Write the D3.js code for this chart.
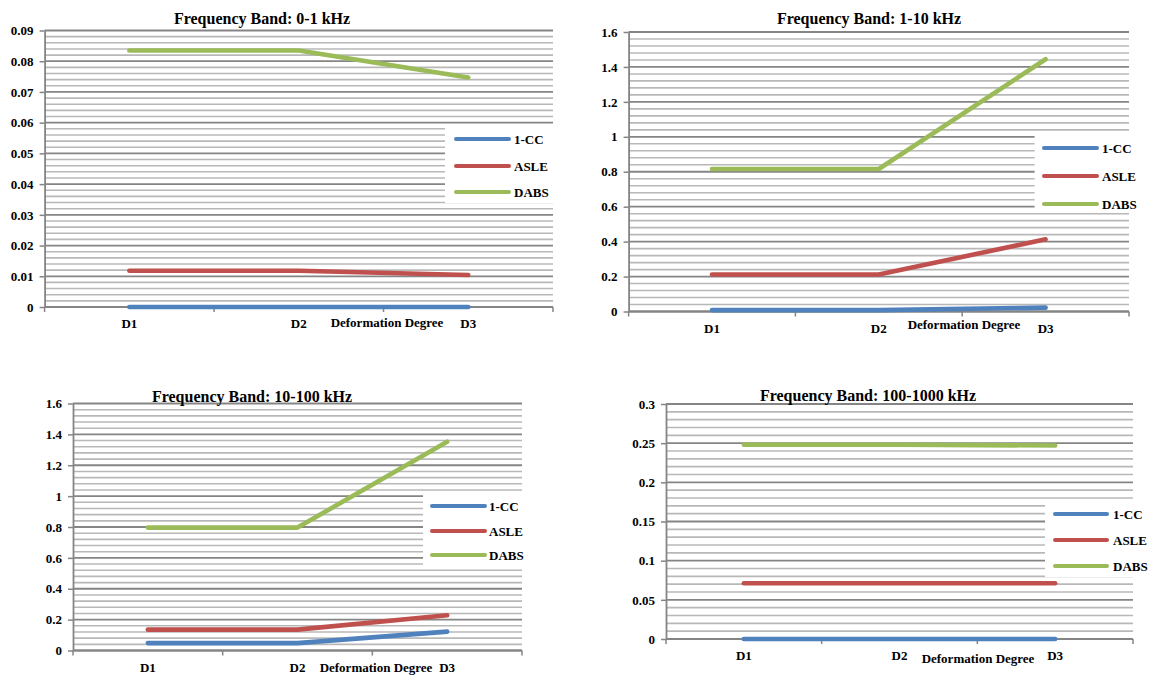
<!DOCTYPE html>
<html>
<head>
<meta charset="utf-8">
<script src="https://cdn.jsdelivr.net/npm/d3@7"></script>
<style>
  html, body { margin: 0; padding: 0; background: #fff; }
  svg { display: block; font-family: "Liberation Serif", "Times New Roman", serif; font-weight: bold; }
</style>
</head>
<body>
<svg id="chart" width="1153" height="675"></svg>
<script>
// ---- data ----
const categories = ["D1", "D2", "D3"];
const seriesNames = ["1-CC", "ASLE", "DABS"];
const seriesColors = ["#4F81BD", "#C0504D", "#9BBB59"];
const xAxisTitle = "Deformation Degree";
const panelTitles = [
  "Frequency Band: 0-1 kHz",
  "Frequency Band: 1-10 kHz",
  "Frequency Band: 10-100 kHz",
  "Frequency Band: 100-1000 kHz"
];

// 0-1 kHz
const cc0to1 = [0, 0, 0];
const asle0to1 = [0.0118, 0.0118, 0.0104];
const dabs0to1 = [0.0835, 0.0835, 0.0747];
const ticks0to1 = [0, 0.01, 0.02, 0.03, 0.04, 0.05, 0.06, 0.07, 0.08, 0.09];
const tickLabels0to1 = ["0", "0.01", "0.02", "0.03", "0.04", "0.05", "0.06", "0.07", "0.08", "0.09"];

// 1-10 kHz
const cc1to10 = [0.008, 0.008, 0.022];
const asle1to10 = [0.212, 0.212, 0.413];
const dabs1to10 = [0.816, 0.816, 1.444];
const ticks1to10 = [0, 0.2, 0.4, 0.6, 0.8, 1, 1.2, 1.4, 1.6];
const tickLabels1to10 = ["0", "0.2", "0.4", "0.6", "0.8", "1", "1.2", "1.4", "1.6"];

// 10-100 kHz
const cc10to100 = [0.048, 0.048, 0.122];
const asle10to100 = [0.135, 0.135, 0.228];
const dabs10to100 = [0.796, 0.796, 1.352];
const ticks10to100 = [0, 0.2, 0.4, 0.6, 0.8, 1, 1.2, 1.4, 1.6];
const tickLabels10to100 = ["0", "0.2", "0.4", "0.6", "0.8", "1", "1.2", "1.4", "1.6"];

// 100-1000 kHz
const cc100to1000 = [0, 0, 0];
const asle100to1000 = [0.0712, 0.0712, 0.0712];
const dabs100to1000 = [0.248, 0.248, 0.247];
const ticks100to1000 = [0, 0.05, 0.1, 0.15, 0.2, 0.25, 0.3];
const tickLabels100to1000 = ["0", "0.05", "0.1", "0.15", "0.2", "0.25", "0.3"];

const panelSeries = [
  [cc0to1, asle0to1, dabs0to1],
  [cc1to10, asle1to10, dabs1to10],
  [cc10to100, asle10to100, dabs10to100],
  [cc100to1000, asle100to1000, dabs100to1000]
];
const panelTicks = [ticks0to1, ticks1to10, ticks10to100, ticks100to1000];
const panelTickLabels = [tickLabels0to1, tickLabels1to10, tickLabels10to100, tickLabels100to1000];

// ---- layout of the four panels ----
const layouts = [
  { left: 44.6, right: 553, top: 30.5, bottom: 307, titleX: 262, titleY: 18, catY: 323, axisTitleX: 387, axisTitleY: 322,
    legend: { x0: 445, y0: 127, y1: 203, items: [139, 166, 192], lineX0: 456, lineX1: 509, textX: 514 } },
  { left: 628.6, right: 1129, top: 32, bottom: 311.5, titleX: 869, titleY: 18, catY: 328, axisTitleX: 964, axisTitleY: 324,
    legend: { x0: 1034.6, y0: 135, y1: 213, items: [148, 176, 204], lineX0: 1044, lineX1: 1097, textX: 1102 } },
  { left: 73, right: 522, top: 403.5, bottom: 650.5, titleX: 252, titleY: 396, catY: 667, axisTitleX: 376, axisTitleY: 667,
    legend: { x0: 423, y0: 495, y1: 565, items: [506, 531, 555], lineX0: 432, lineX1: 485, textX: 489 } },
  { left: 666, right: 1133, top: 404, bottom: 639, titleX: 868, titleY: 395, catY: 655, axisTitleX: 978, axisTitleY: 658,
    legend: { x0: 1045, y0: 505, y1: 577, items: [514, 540, 566], lineX0: 1055, lineX1: 1107, textX: 1113 } }
];

const MINOR_PER_MAJOR = 5;
const GRID_MAJOR = "#858585";
const GRID_MINOR = "#b8b8b8";
const FONT = "'Liberation Serif', 'Times New Roman', serif";
const svg = d3.select("#chart");

layouts.forEach((L, p) => {
  const ticks = panelTicks[p];
  const labels = panelTickLabels[p];
  const yMax = ticks[ticks.length - 1];
  const g = svg.append("g");

  const x = d3.scaleBand().domain(categories).range([L.left, L.right]).padding(0);
  const y = d3.scaleLinear().domain([0, yMax]).range([L.bottom, L.top]);

  // minor gridlines
  const nMinor = (ticks.length - 1) * MINOR_PER_MAJOR;
  const minorVals = d3.range(nMinor + 1)
    .filter(i => i % MINOR_PER_MAJOR !== 0)
    .map(i => yMax * i / nMinor);
  g.append("g").selectAll("line").data(minorVals).join("line")
    .attr("x1", L.left).attr("x2", L.right)
    .attr("y1", d => y(d)).attr("y2", d => y(d))
    .attr("stroke", GRID_MINOR).attr("stroke-width", 1.6);

  // major gridlines
  g.append("g").selectAll("line").data(ticks).join("line")
    .attr("x1", L.left).attr("x2", L.right)
    .attr("y1", d => y(d)).attr("y2", d => y(d))
    .attr("stroke", GRID_MAJOR).attr("stroke-width", 1.8);

  // y axis
  const yAxis = d3.axisLeft(y).tickValues(ticks)
    .tickFormat((d, i) => labels[i]).tickSize(5).tickSizeOuter(0).tickPadding(6);
  const ya = g.append("g").attr("transform", `translate(${L.left},0)`).call(yAxis)
    .attr("font-family", FONT).attr("font-size", 13).attr("font-weight", "bold");
  ya.select(".domain").attr("stroke", GRID_MAJOR).attr("stroke-width", 1.8);
  ya.selectAll(".tick line").attr("stroke", GRID_MAJOR).attr("stroke-width", 1.5);
  ya.selectAll(".tick text").attr("fill", "#000");

  // x axis line with boundary ticks
  const xa = g.append("g");
  xa.append("line").attr("x1", L.left).attr("x2", L.right)
    .attr("y1", y(0)).attr("y2", y(0)).attr("stroke", GRID_MAJOR).attr("stroke-width", 1.8);
  const bounds = categories.map(c => x(c)).concat([x(categories[categories.length - 1]) + x.bandwidth()]);
  xa.selectAll("line.bt").data(bounds).join("line").attr("class", "bt")
    .attr("x1", d => d).attr("x2", d => d)
    .attr("y1", y(0)).attr("y2", y(0) + 5)
    .attr("stroke", GRID_MAJOR).attr("stroke-width", 1.5);

  // category labels
  g.append("g").selectAll("text").data(categories).join("text")
    .attr("x", d => x(d) + x.bandwidth() / 2).attr("y", L.catY)
    .attr("text-anchor", "middle").attr("dominant-baseline", "central")
    .style("font-size", "13px").text(d => d);

  // axis title
  g.append("text").attr("x", L.axisTitleX).attr("y", L.axisTitleY)
    .attr("text-anchor", "middle").attr("dominant-baseline", "central")
    .style("font-size", "13px").text(xAxisTitle);

  // panel title
  g.append("text").attr("x", L.titleX).attr("y", L.titleY)
    .attr("text-anchor", "middle").attr("dominant-baseline", "central")
    .style("font-size", "16px").text(panelTitles[p]);

  // series lines
  const line = d3.line()
    .x((d, i) => x(categories[i]) + x.bandwidth() / 2)
    .y(d => y(d));
  panelSeries[p].forEach((vals, s) => {
    g.append("path").datum(vals)
      .attr("d", line)
      .attr("fill", "none")
      .attr("stroke", seriesColors[s])
      .attr("stroke-width", 4.6)
      .attr("stroke-linecap", "round")
      .attr("stroke-linejoin", "round");
  });

  // legend
  const lg = g.append("g");
  lg.append("rect").attr("x", L.legend.x0).attr("y", L.legend.y0)
    .attr("width", L.right - L.legend.x0).attr("height", L.legend.y1 - L.legend.y0)
    .attr("fill", "#fff");
  seriesNames.forEach((name, s) => {
    const ly = L.legend.items[s];
    lg.append("line").attr("x1", L.legend.lineX0).attr("x2", L.legend.lineX1)
      .attr("y1", ly).attr("y2", ly)
      .attr("stroke", seriesColors[s]).attr("stroke-width", 4).attr("stroke-linecap", "round");
    lg.append("text").attr("x", L.legend.textX).attr("y", ly)
      .attr("dominant-baseline", "central").style("font-size", "13px").text(name);
  });
});
</script>
</body>
</html>
